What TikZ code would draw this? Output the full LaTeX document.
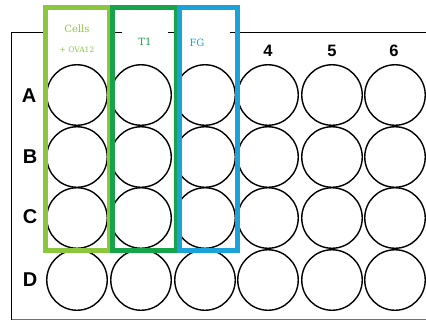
\documentclass[tikz,border=0pt]{standalone}
\usepackage{fontspec}
\setmainfont{DejaVu Serif}
\setsansfont{Liberation Sans}
\definecolor{lgreen}{HTML}{8CC63F}
\definecolor{dgreen}{HTML}{16A34A}
\definecolor{lblue}{HTML}{1BA3D9}
\begin{document}
\begin{tikzpicture}[x=1pt,y=-1pt,
  well/.style={circle,draw=black,line width=1.4pt,minimum size=60.5pt,inner sep=0pt},
  rowlab/.style={font=\sffamily\bfseries\fontsize{20}{20}\selectfont,inner sep=0pt},
  collab/.style={font=\sffamily\bfseries\fontsize{16.5}{16.5}\selectfont,inner sep=0pt},
  grp/.style={line width=5pt},
  toplab/.style={inner sep=0pt,font=\fontsize{10}{10}\selectfont}]
\useasboundingbox (0,0) rectangle (426,322);
\fill[white] (0,0) rectangle (426,322);
% plate outline
\draw[line width=1.3pt] (430,32.5) -- (11.5,32.5) -- (11.5,319.5);
\draw[line width=1.3pt,black!55] (11.5,319.5) -- (430,319.5);
% white label backgrounds over the plate edge
\fill[white] (48,12) rectangle (107,62);
\fill[white] (122,12) rectangle (168,56);
\fill[white] (182,12) rectangle (230,56);
% wells
\foreach \r/\y in {A/95,B/157,C/218,D/280}{
  \foreach \c/\x in {1/77,2/141,3/205,4/268,5/332,6/395}{
    \node[well] (\r\c) at (\x,\y) {};
  }
}
% row labels
\node[rowlab] (la) at (29,96) {A};
\node[rowlab] (lb) at (30,157) {B};
\node[rowlab] (lc) at (30,217) {C};
\node[rowlab] (ld) at (30,280) {D};
% column labels
\node[collab] (c4) at (268,51) {4};
\node[collab] (c5) at (332,51) {5};
\node[collab] (c6) at (394,51) {6};
% group rectangles
\draw[grp,lgreen] (45.5,7.5) rectangle (109.5,250.5);
\draw[grp,dgreen] (112,7.5) rectangle (176,250.5);
\draw[grp,lblue] (179.5,7.5) rectangle (237.5,250.5);
% group labels
\node[toplab,text=lgreen] (t1) at (77,29) {Cells};
\node[toplab,text=lgreen,font=\fontsize{7.5}{7.5}\selectfont] (t2) at (77,50) {+ OVA12};
\node[toplab,text=dgreen] (t3) at (145,42) {T1};
\node[toplab,text=lblue] (t4) at (197,43) {FG};
\end{tikzpicture}
\end{document}
